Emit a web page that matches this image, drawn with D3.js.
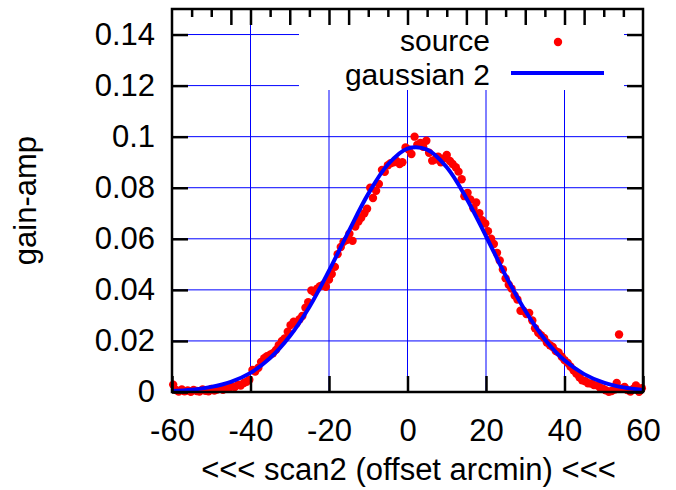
<!DOCTYPE html>
<html>
<head>
<meta charset="utf-8">
<script src="https://cdn.jsdelivr.net/npm/d3@7/dist/d3.min.js"></script>
<style>
  html, body { margin: 0; padding: 0; background: #fff; }
  svg { display: block; }
  text { font-family: "Liberation Sans", Arial, sans-serif; fill: #000; }
</style>
</head>
<body>
<svg id="chart" width="676" height="490"></svg>
<script>
// ---- data ----
const sourceX = [
  -59.7,-59.0,-58.3,-57.5,-56.8,-56.0,-55.2,-54.5,-53.7,-53.0,-52.2,-51.5,-50.7,-50.0,-49.2,-48.5,-47.7,-47.0,-46.2,-45.5,
  -44.7,-44.0,-43.2,-42.5,-41.7,-41.0,-40.3,-39.5,-38.8,-38.0,-37.3,-36.5,-35.8,-35.0,-34.3,-33.5,-32.8,-32.0,-31.3,-30.5,
  -29.8,-29.0,-28.3,-27.5,-26.8,-26.0,-25.3,-24.5,-23.8,-23.0,-22.3,-21.5,-20.8,-20.0,-19.3,-18.5,-17.8,-17.0,-16.3,-15.5,
  -14.8,-14.0,-13.3,-12.5,-11.8,-11.0,-10.3,-9.5,-8.8,-8.0,-7.3,-6.5,-5.8,-5.0,-4.3,-3.5,-2.8,-2.0,-1.3,-0.5,
  0.3,1.0,1.8,2.5,3.3,4.0,4.8,5.5,6.3,7.0,7.8,8.5,9.3,10.0,10.8,11.5,12.3,13.0,13.8,14.5,
  15.3,16.0,16.8,17.5,18.3,19.0,19.8,20.5,21.3,22.0,22.8,23.5,24.3,25.0,25.8,26.5,27.3,28.0,28.8,29.5,
  30.3,31.0,31.8,32.5,33.3,34.0,34.8,35.5,36.3,37.0,37.8,38.5,39.3,40.0,40.8,41.5,42.3,43.0,43.8,44.5,
  45.3,46.0,46.8,47.5,48.3,49.0,49.8,50.5,51.3,52.0,52.8,53.3,53.9,54.5,55.3,56.0,56.8,57.5,58.2,59.0,59.7
];
const sourceY = [
  0.0029,0.0008,0.0002,0.0010,0.0003,0.0006,0.0001,0.0008,0.0004,0.0002,0.0010,0.0005,0.0003,0.0012,0.0006,0.0010,0.0014,0.0009,0.0017,0.0013,
  0.0022,0.0019,0.0029,0.0025,0.0035,0.0040,0.0048,0.0086,0.0080,0.0095,0.0118,0.0132,0.0140,0.0146,0.0152,0.0165,0.0183,0.0200,0.0210,0.0236,
  0.0262,0.0275,0.0268,0.0285,0.0298,0.0330,0.0352,0.0398,0.0392,0.0405,0.0414,0.0420,0.0412,0.0440,0.0462,0.0490,0.0540,0.0568,0.0588,0.0595,
  0.0620,0.0592,0.0648,0.0668,0.0682,0.0700,0.0718,0.0800,0.0760,0.0788,0.0815,0.0870,0.0862,0.0888,0.0896,0.0900,0.0905,0.0893,0.0900,0.0958,
  0.0950,0.0932,0.1000,0.0968,0.0975,0.0960,0.0984,0.0937,0.0906,0.0910,0.0922,0.0900,0.0915,0.0928,0.0905,0.0893,0.0880,0.0863,0.0833,0.0767,
  0.0780,0.0754,0.0720,0.0742,0.0700,0.0673,0.0660,0.0630,0.0600,0.0580,0.0545,0.0515,0.0480,0.0445,0.0420,0.0405,0.0378,0.0362,0.0318,0.0318,
  0.0305,0.0310,0.0280,0.0250,0.0232,0.0222,0.0212,0.0194,0.0183,0.0176,0.0160,0.0155,0.0138,0.0125,0.0114,0.0100,0.0085,0.0072,0.0058,0.0046,
  0.0042,0.0034,0.0033,0.0027,0.0026,0.0018,0.0013,0.0007,0.0001,0.0004,0.0010,0.0035,0.0225,0.0013,0.0020,0.0008,0.0002,0.0012,0.0026,0.0001,0.0015
];
// fitted curve ("gaussian 2"), every 5 arcmin
const fitX = [-60,-55,-50,-45,-40,-35,-30,-25,-20,-15,-10,-5,0,5,10,15,20,25,30,35,40,45,50,55,60];
const fitY = [0.0004,0.0009,0.0020,0.0040,0.0075,0.0133,0.0218,0.0333,0.0475,0.0629,0.0776,0.0891,0.0953,0.0949,0.0880,0.0759,0.0610,0.0456,0.0318,0.0206,0.0124,0.0070,0.0037,0.0018,0.0008];

const xTicks = [-60,-40,-20,0,20,40,60];
const xTickLabels = ["-60","-40","-20","0","20","40","60"];
const yTicks = [0,0.02,0.04,0.06,0.08,0.10,0.12,0.14];
const yTickLabels = ["0","0.02","0.04","0.06","0.08","0.1","0.12","0.14"];
const topTicks = [-55,-50,-45,-40,-35,-30,-25,-20,-15,-10,-5,0,5,10,15,20,25,30,35,40,45,50,55];
const topLongTicks = [-45,-40,-30,-20,-15,0,15,20,30,40,45];
const xGrid = [-40,-20,0,20,40];
const yGrid = [0.02,0.04,0.06,0.08,0.10,0.12,0.14];

const legendLabels = ["source","gaussian 2"];
const xLabel = "<<< scan2 (offset arcmin) <<<";
const yLabel = "gain-amp";

// ---- layout ----
const L = 172, R = 643, T = 9, B = 392;
const FS = 31;
const svg = d3.select("#chart");
const x = d3.scaleLinear().domain([-60, 60]).range([L, R]);
const y = d3.scaleLinear().domain([0, 0.15]).range([B, T]);

// grid
const grid = svg.append("g").attr("stroke", "#0000ff").attr("stroke-width", 1);
grid.selectAll("line.v").data(xGrid).enter().append("line")
  .attr("x1", d => x(d)).attr("x2", d => x(d)).attr("y1", B).attr("y2", T);
grid.selectAll("line.h").data(yGrid).enter().append("line")
  .attr("x1", L).attr("x2", R).attr("y1", d => y(d)).attr("y2", d => y(d));

// legend background (opaque key box)
svg.append("rect").attr("x", 299).attr("y", T).attr("width", 624 - 299).attr("height", 90 - T).attr("fill", "#fff");

// points
svg.append("g").selectAll("circle").data(sourceX.map((d, i) => [d, sourceY[i]])).enter()
  .append("circle").attr("cx", d => x(d[0])).attr("cy", d => y(d[1])).attr("r", 4.2).attr("fill", "#ff0000");

// fitted curve
const line = d3.line().x(d => x(d[0])).y(d => y(d[1])).curve(d3.curveCatmullRom.alpha(0.5));
svg.append("path").datum(fitX.map((d, i) => [d, fitY[i]]))
  .attr("d", line).attr("fill", "none").attr("stroke", "#0000ff").attr("stroke-width", 4).attr("stroke-linejoin", "round");

// axes (ticks + labels)
const axB = svg.append("g").attr("transform", `translate(0,${B})`)
  .call(d3.axisBottom(x).tickValues(xTicks).tickFormat((d, i) => xTickLabels[i]).tickSize(-16).tickPadding(27));
const axL = svg.append("g").attr("transform", `translate(${L},0)`)
  .call(d3.axisLeft(y).tickValues(yTicks).tickFormat((d, i) => yTickLabels[i]).tickSize(-16).tickPadding(17));
const axR = svg.append("g").attr("transform", `translate(${R},0)`)
  .call(d3.axisRight(y).tickValues(yTicks).tickFormat("").tickSize(-16));
const axT = svg.append("g").attr("transform", `translate(0,${T})`)
  .call(d3.axisTop(x).tickValues(topTicks).tickFormat("").tickSize(-8));
axT.selectAll(".tick line").filter(d => topLongTicks.includes(d)).attr("y2", 16);
[axB, axL, axR, axT].forEach(a => {
  a.select(".domain").remove();
  a.selectAll(".tick line").attr("stroke", "#000").attr("stroke-width", 2.5);
  a.selectAll("text").attr("font-size", FS).attr("font-family", '"Liberation Sans", Arial, sans-serif').attr("fill", "#000");
});

// border
svg.append("rect").attr("x", L).attr("y", T).attr("width", R - L).attr("height", B - T)
  .attr("fill", "none").attr("stroke", "#000").attr("stroke-width", 2.5);

// legend
const LFS = 30;
svg.append("text").attr("x", 490).attr("y", 50.5).attr("text-anchor", "end").attr("font-size", LFS).text(legendLabels[0]);
svg.append("circle").attr("cx", 558).attr("cy", 42).attr("r", 4.2).attr("fill", "#ff0000");
svg.append("text").attr("x", 490).attr("y", 84.5).attr("text-anchor", "end").attr("font-size", LFS).text(legendLabels[1]);
svg.append("line").attr("x1", 511).attr("x2", 604).attr("y1", 73).attr("y2", 73).attr("stroke", "#0000ff").attr("stroke-width", 4);

// axis titles
svg.append("text").attr("x", (L + R) / 2 + 1).attr("y", 480).attr("text-anchor", "middle").attr("font-size", FS).text(xLabel);
svg.append("text").attr("transform", `translate(36,${(T + B) / 2}) rotate(-90)`).attr("text-anchor", "middle").attr("font-size", FS).text(yLabel);
</script>
</body>
</html>
